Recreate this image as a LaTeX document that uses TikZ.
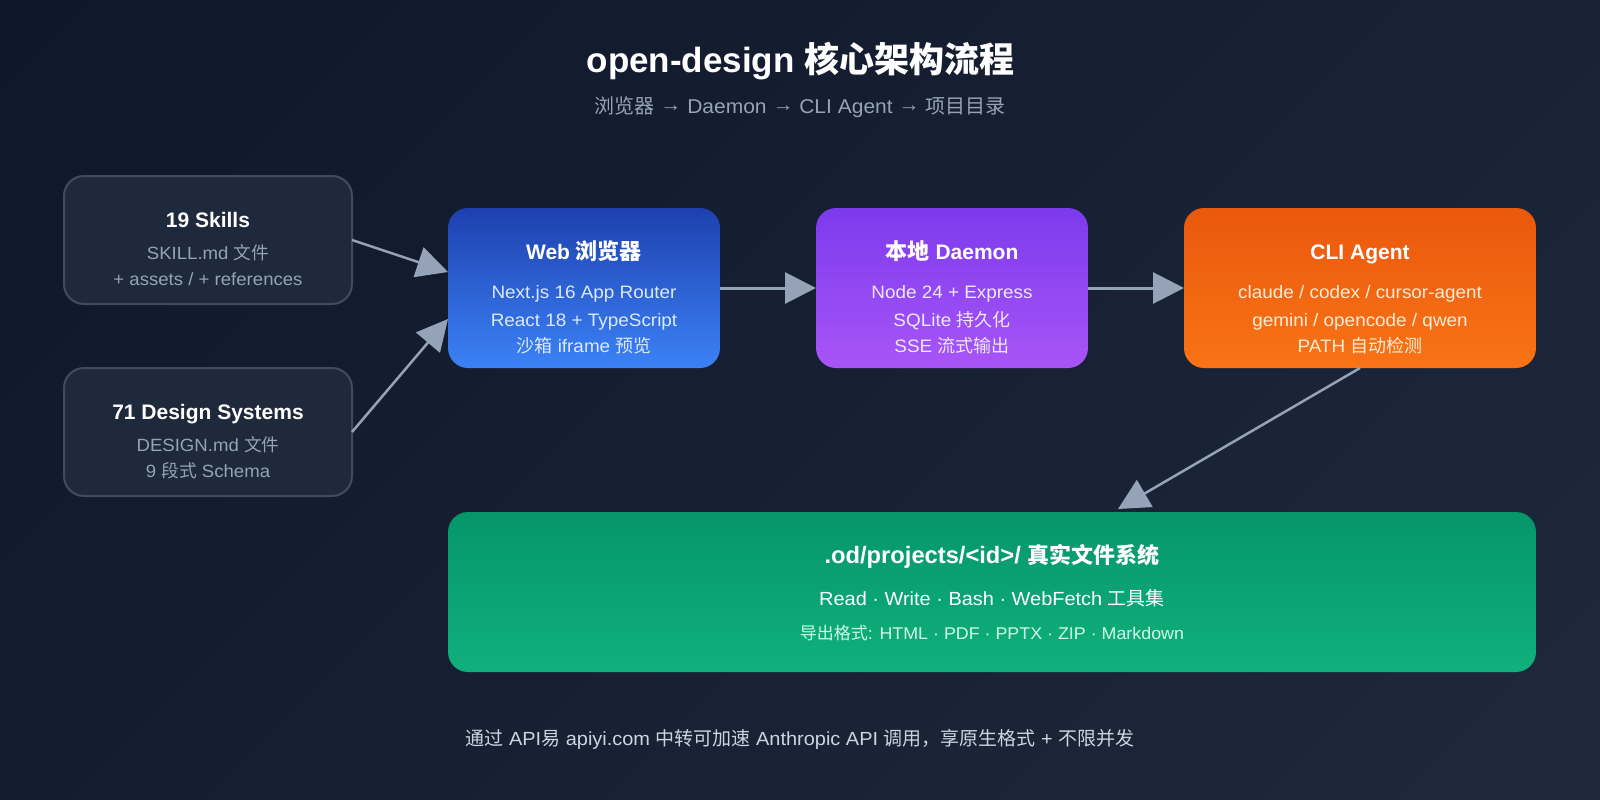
\documentclass[tikz,border=0pt]{standalone}
\usepackage{fontspec}
\usetikzlibrary{arrows.meta,calc,positioning}
\setmainfont{Liberation Sans}[FakeStretch=1.05,BoldFeatures={FakeStretch=1.0}]
\newfontfamily\cjk{Noto Sans CJK SC}
\newcommand{\headcjk}[1]{{\cjk\fontsize{22}{24}\selectfont #1}}
\newcommand{\midarrow}{\raisebox{1.5pt}{→}}

\definecolor{bgdark}{HTML}{0F172A}
\definecolor{bglight}{HTML}{1E293B}
\definecolor{edgegray}{HTML}{3F4C60}
\definecolor{flowgray}{HTML}{94A3B8}
\definecolor{footgray}{HTML}{CBD5E1}
\definecolor{webtop}{HTML}{1E40AF}
\definecolor{webbot}{HTML}{3B82F6}
\definecolor{webtext}{HTML}{DBEAFE}
\definecolor{daemontop}{HTML}{7C3AED}
\definecolor{daemonbot}{HTML}{A855F7}
\definecolor{daemontext}{HTML}{EDE9FE}
\definecolor{clitop}{HTML}{EA580C}
\definecolor{clibot}{HTML}{F97316}
\definecolor{clitext}{HTML}{FFEDD5}
\definecolor{storetop}{HTML}{059669}
\definecolor{storebot}{HTML}{10B07C}
\definecolor{storetext}{HTML}{D1FAE5}

\pgfdeclareverticalshading{bgdiag}{100bp}{color(0bp)=(bglight); color(14.65bp)=(bglight); color(85.35bp)=(bgdark); color(100bp)=(bgdark)}

\begin{document}
\begin{tikzpicture}[x=1pt,y=-1pt,
    box/.style={rectangle,rounded corners=20pt,outer sep=0pt,inner sep=0pt},
    sidebox/.style={box,draw=edgegray,line width=2pt,fill=bglight,minimum width=288pt,minimum height=128pt},
    mainbox/.style={box,minimum height=160pt},
    heading/.style={anchor=base,text=white,font=\fontsize{21}{24}\selectfont\bfseries},
    detail/.style={anchor=base,font=\fontsize{18}{20}\selectfont},
    sidedetail/.style={detail,text=flowgray,font=\fontsize{17.7}{20}\selectfont},
    flow/.style={draw=flowgray,line width=2.5pt,-{Triangle[length=31pt,width=31pt]}},
    thickflow/.style={flow,line width=3pt}]

% background and bounding box
\shade[shading=bgdiag,shading angle=45] (0,0) rectangle (1600,800);
\useasboundingbox (0,0) rectangle (1600,800);

% title
\node[anchor=base,text=white,font=\fontsize{35}{40}\selectfont\bfseries] (title) at (800.5,72) {open-design {\cjk 核心架构流程}};
\node[anchor=base,text=flowgray,font=\fontsize{20}{24}\selectfont] (subtitle) at (800,113) {{\cjk 浏览器} \midarrow{} Daemon \midarrow{} CLI Agent \midarrow{} {\cjk 项目目录}};

% draw left boxes
\node[sidebox] (skills) at (208,240) {};
\node[sidebox] (systems) at (208,432) {};
\node[heading] (skillshead) at (208,227) {19 Skills};
\node[sidedetail] (skillsa) at (208,259) {SKILL.md {\cjk 文件}};
\node[sidedetail] (skillsb) at (208,285) {+ assets / + references};
\node[heading] (systemshead) at (208,419) {71 Design Systems};
\node[sidedetail] (systemsa) at (208,451) {DESIGN.md {\cjk 文件}};
\node[sidedetail] (systemsb) at (208,477) {9 {\cjk 段式} Schema};

% draw main row
\node[mainbox,top color=webtop,bottom color=webbot,minimum width=272pt] (web) at (584,288) {};
\node[mainbox,top color=daemontop,bottom color=daemonbot,minimum width=272pt] (daemon) at (952,288) {};
\node[mainbox,top color=clitop,bottom color=clibot,minimum width=352pt] (cli) at (1360,288) {};

\node[heading] (webhead) at (584,259) {Web \headcjk{浏览器}};
\node[detail,text=webtext] (weba) at (584,298) {Next.js 16 App Router};
\node[detail,text=webtext] (webb) at (584,326) {React 18 + TypeScript};
\node[detail,text=webtext] (webc) at (584,352) {{\cjk 沙箱} iframe {\cjk 预览}};

\node[heading] (daemonhead) at (952,259) {\headcjk{本地} Daemon};
\node[detail,text=daemontext] (daemona) at (952,298) {Node 24 + Express};
\node[detail,text=daemontext] (daemonb) at (952,326) {SQLite {\cjk 持久化}};
\node[detail,text=daemontext] (daemonc) at (952,352) {SSE {\cjk 流式输出}};

\node[heading] (clihead) at (1360,259) {CLI Agent};
\node[detail,text=clitext] (clia) at (1360,298) {claude / codex / cursor-agent};
\node[detail,text=clitext] (clib) at (1360,326) {gemini / opencode / qwen};
\node[detail,text=clitext] (clic) at (1360,352) {PATH {\cjk 自动检测}};

% draw project box
\node[mainbox,top color=storetop,bottom color=storebot,minimum width=1088pt] (store) at (992,592) {};
\node[heading,font=\fontsize{23.7}{24}\selectfont\bfseries] (storehead) at (992,563) {.od/projects/<id>/ \headcjk{真实文件系统}};
\node[anchor=base,text=white,font=\fontsize{19}{22}\selectfont] (storea) at (992,605) {Read · Write · Bash · WebFetch {\cjk 工具集}};
\node[anchor=base,text=storetext,font=\fontsize{17}{20}\selectfont] (storeb) at (992,639) {{\cjk 导出格式}: HTML · PDF · PPTX · ZIP · Markdown};

% footer
\node[anchor=base,text=footgray,font=\fontsize{19}{22}\selectfont] (footer) at (800,745) {{\cjk 通过} API{\cjk 易} apiyi.com {\cjk 中转可加速} Anthropic API {\cjk 调用，享原生格式} + {\cjk 不限并发}};

% connect boxes
\coordinate (webin1) at ($(web.west)+(0,-16)$);
\coordinate (webin2) at ($(web.west)+(0,31)$);
\coordinate (storein) at ($(store.north)+(126,-3)$);
\draw[flow] (skills.east) -- (webin1);
\draw[flow] (systems.east) -- (webin2);
\draw[thickflow] (web.east) -- (daemon.west);
\draw[thickflow] (daemon.east) -- (cli.west);
\draw[flow] (cli.south) -- (storein);

\end{tikzpicture}
\end{document}
